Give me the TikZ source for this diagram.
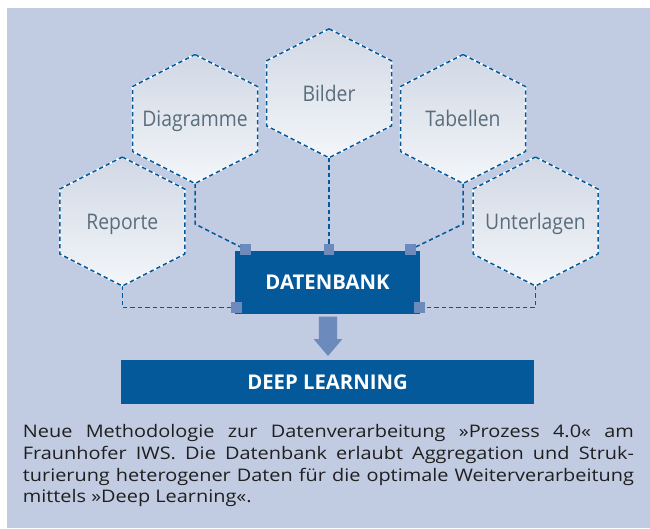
\documentclass[tikz,border=0pt]{standalone}
\usepackage{fontspec}
\setmainfont{Open Sans}
\newfontfamily\hexfont[FakeStretch=0.9]{Open Sans}
\newfontfamily\capfont[FakeStretch=1.15]{Open Sans}
\usetikzlibrary{positioning,calc}

\definecolor{panel}{HTML}{C1CBE2}
\definecolor{dbblue}{HTML}{03599A}
\definecolor{portblue}{HTML}{6C8BBC}
\definecolor{hextop}{HTML}{D1D8E5}
\definecolor{hexbot}{HTML}{F3F6F9}
\definecolor{hextext}{HTML}{5A6D7C}
\definecolor{captext}{HTML}{1F1F1F}

\begin{document}
\begin{tikzpicture}[x=1pt,y=-1pt,
  hex/.style={top color=hextop,bottom color=hexbot,draw=white,line width=1.8pt,
    postaction={draw=dbblue,line width=1.5pt,dash pattern=on 4.4pt off 3pt}},
  hexlabel/.style={font=\hexfont\fontsize{21.5}{24}\selectfont,text=hextext,inner sep=0,anchor=base},
  link/.style={draw=dbblue,line width=1.5pt,dash pattern=on 4.4pt off 3pt},
  box/.style={fill=dbblue,text=white,inner sep=0,font=\bfseries\fontsize{20.3}{23}\selectfont},
  port/.style={fill=portblue,minimum size=10.5pt,inner sep=0}]

    \useasboundingbox (0,0) rectangle (650,528);
    \fill[white] (0,0) rectangle (650,528);
    \fill[panel] (7,8) rectangle (650,528);

    % the five data sources
    \foreach \n/\cx/\cy/\txt in {diag/195/119/Diagramme, bild/329/93.3/Bilder,
        tab/463/119/Tabellen, rep/122.3/221.5/Reporte, unt/535.5/221.5/Unterlagen}{
        \path[hex] (\cx,\cy-64.5) -- ++(62.5,32) -- ++(0,65) -- ++(-62.5,32)
            -- ++(-62.5,-32) -- ++(0,-65) -- cycle;
        \node[hexlabel] (\n) at (\cx,\cy+7.8) {\txt};
        \coordinate (\n-s) at (\cx,\cy+64.5);
    }

    \node[box,minimum width=185pt,minimum height=63pt] (db) at (327.5,282.5) {DATENBANK};
    \node[port] (p1) at (245.5,249.5) {};
    \node[port] (p2) at (329,249.5) {};
    \node[port] (p3) at (410.5,249.5) {};
    \node[port] (p4) at (236.5,307.5) {};
    \node[port] (p5) at (419.5,307.5) {};

    \draw[link] (diag-s) -- ++(0,40.5) -- (p1);
    \draw[link] (bild-s) -- (p2);
    \draw[link] (tab-s) -- ++(0,40.5) -- (p3);
    \draw[link] (rep-s) |- (p4);
    \draw[link] (unt-s) |- (p5);

    \node[box,minimum width=413pt,minimum height=44pt,below=46pt of db] (dl) {DEEP LEARNING};

    % block arrow db -> dl
    \fill[portblue] (318.8,316.7) -- (337.2,316.7) -- (337.2,339) -- (342.4,339)
        -- (328,356) -- (313.6,339) -- (318.8,339) -- cycle;

    \node[anchor=north west,text width=611pt,align=justify,inner sep=0,text=captext,
        font=\capfont\fontsize{17.3}{21.7}\selectfont] (cap) at (22.7,424.5)
        {Neue Methodologie zur Datenverarbeitung »Prozess 4.0« am\linebreak
        Fraunhofer IWS. Die Datenbank erlaubt Aggregation und Struk-\linebreak
        turierung heterogener Daten für die optimale Weiterverarbeitung\linebreak
        mittels »Deep Learning«.};
\end{tikzpicture}
\end{document}
